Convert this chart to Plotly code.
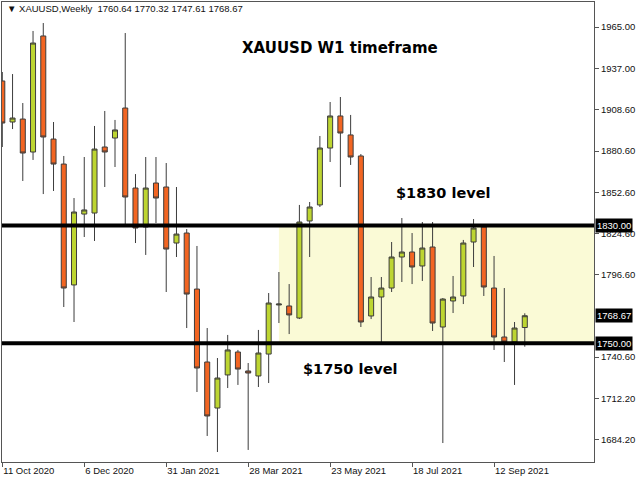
import plotly.graph_objects as go

weeks = [
    "2020-10-11", "2020-10-18", "2020-10-25", "2020-11-01", "2020-11-08", "2020-11-15",
    "2020-11-22", "2020-11-29", "2020-12-06", "2020-12-13", "2020-12-20", "2020-12-27",
    "2021-01-03", "2021-01-10", "2021-01-17", "2021-01-24", "2021-01-31", "2021-02-07",
    "2021-02-14", "2021-02-21", "2021-02-28", "2021-03-07", "2021-03-14", "2021-03-21",
    "2021-03-28", "2021-04-04", "2021-04-11", "2021-04-18", "2021-04-25", "2021-05-02",
    "2021-05-09", "2021-05-16", "2021-05-23", "2021-05-30", "2021-06-06", "2021-06-13",
    "2021-06-20", "2021-06-27", "2021-07-04", "2021-07-11", "2021-07-18", "2021-07-25",
    "2021-08-01", "2021-08-08", "2021-08-15", "2021-08-22", "2021-08-29", "2021-09-05",
    "2021-09-12", "2021-09-19", "2021-09-26", "2021-10-03",
]
open_ = [
    1928.3, 1900.4, 1902.4, 1880.0, 1958.9, 1888.8, 1871.8, 1789.6, 1837.8, 1838.5,
    1883.4, 1889.5, 1909.9, 1855.5, 1829.0, 1858.9, 1856.2, 1818.1, 1824.9, 1786.8,
    1737.2, 1705.9, 1728.4, 1744.0, 1731.1, 1727.7, 1742.6, 1776.0, 1775.3, 1767.1,
    1833.1, 1844.0, 1882.7, 1904.5, 1891.6, 1877.3, 1768.5, 1781.4, 1787.5, 1808.6,
    1812.0, 1802.5, 1815.4, 1761.0, 1778.7, 1782.1, 1818.8, 1829.0, 1787.5, 1754.2,
    1750.8, 1760.64,
]
high = [
    1934.4, 1933.0, 1913.3, 1962.3, 1967.7, 1900.4, 1877.3, 1848.7, 1876.6, 1897.7,
    1907.9, 1901.8, 1960.9, 1865.0, 1876.6, 1876.6, 1872.5, 1856.2, 1827.6, 1816.1,
    1760.3, 1739.9, 1755.6, 1745.4, 1736.5, 1759.0, 1784.1, 1798.4, 1790.2, 1844.0,
    1846.0, 1890.9, 1914.0, 1917.4, 1905.2, 1878.6, 1795.0, 1795.0, 1818.8, 1835.1,
    1824.9, 1832.4, 1832.4, 1780.7, 1795.7, 1820.2, 1834.4, 1831.0, 1809.3, 1787.5,
    1764.4, 1770.32,
]
low = [
    1883.4, 1895.6, 1860.3, 1874.6, 1851.4, 1853.5, 1774.6, 1764.4, 1822.2, 1819.5,
    1856.2, 1869.8, 1829.0, 1818.1, 1810.0, 1831.7, 1784.8, 1808.6, 1760.3, 1716.8,
    1686.9, 1676.0, 1719.5, 1721.6, 1677.4, 1720.2, 1722.9, 1763.7, 1756.2, 1766.4,
    1808.6, 1842.6, 1873.2, 1856.2, 1871.2, 1761.0, 1766.4, 1750.8, 1784.8, 1791.6,
    1790.2, 1792.3, 1758.3, 1682.1, 1770.5, 1776.6, 1801.8, 1782.1, 1745.4, 1737.2,
    1721.6, 1747.61,
]
close = [
    1899.7, 1903.1, 1879.3, 1954.1, 1890.2, 1871.8, 1787.5, 1839.2, 1840.6, 1882.0,
    1880.0, 1895.0, 1849.4, 1828.3, 1855.5, 1848.7, 1814.0, 1824.2, 1783.4, 1733.1,
    1700.5, 1726.3, 1745.4, 1732.4, 1729.7, 1743.3, 1777.3, 1776.6, 1769.2, 1832.4,
    1842.6, 1882.7, 1904.5, 1892.9, 1876.6, 1764.4, 1781.4, 1787.5, 1808.6, 1812.0,
    1801.8, 1814.7, 1763.7, 1780.0, 1781.4, 1818.1, 1828.3, 1788.2, 1754.2, 1750.8,
    1760.3, 1768.67,
]

x_tick_dates = ["2020-10-11", "2020-12-06", "2021-01-31", "2021-03-28",
                "2021-05-23", "2021-07-18", "2021-09-12"]
x_tick_labels = ["11 Oct 2020", "6 Dec 2020", "31 Jan 2021", "28 Mar 2021",
                 "23 May 2021", "18 Jul 2021", "12 Sep 2021"]
y_ticks = [1965.00, 1937.00, 1908.60, 1880.60, 1852.60, 1824.60, 1796.60,
           1740.60, 1712.20, 1684.20]
levels = [1830.00, 1750.00]
zone_start = "2021-04-18"

symbol = "XAUUSD"
period = "Weekly"

LBL = "Liberation Sans"
BOLD = "DejaVu Sans"
GREEN = "#BDD531"
RED = "#F26522"
EDGE = "#3c3c3c"

fig = go.Figure()
fig.add_trace(go.Candlestick(
    x=weeks, open=open_, high=high, low=low, close=close,
    increasing=dict(fillcolor=GREEN, line=dict(color=EDGE, width=1)),
    decreasing=dict(fillcolor=RED, line=dict(color=EDGE, width=1)),
    whiskerwidth=0, showlegend=False, hoverinfo="skip",
))

# shaded range zone between the two levels
fig.add_shape(type="rect", xref="x", yref="y", x0=zone_start, x1="2021-12-31",
              y0=min(levels), y1=max(levels), fillcolor="#FAFAD6",
              line=dict(width=0), layer="below")
for lv in levels:
    fig.add_shape(type="line", xref="paper", yref="y", x0=0, x1=1, y0=lv, y1=lv,
                  line=dict(color="black", width=4), layer="above")

ann = []
ann.append(dict(xref="paper", yref="paper", x=0.005, y=0.985, xanchor="left",
                yanchor="middle", showarrow=False,
                text="▼ %s,%s  %.2f %.2f %.2f %.2f" % (symbol, period, open_[-1], high[-1], low[-1], close[-1]),
                font=dict(family=LBL, size=9.5, color="#111")))
ann.append(dict(xref="paper", yref="paper", x=0.571, y=0.90, xanchor="center",
                yanchor="middle", showarrow=False,
                text="<b>XAUUSD W1 timeframe</b>", font=dict(family=BOLD, size=15, color="black")))
ann.append(dict(xref="paper", yref="paper", x=0.745, y=0.585, xanchor="center",
                yanchor="middle", showarrow=False,
                text="<b>$1830 level</b>", font=dict(family=BOLD, size=14.5, color="black")))
ann.append(dict(xref="paper", yref="paper", x=0.588, y=0.202, xanchor="center",
                yanchor="middle", showarrow=False,
                text="<b>$1750 level</b>", font=dict(family=BOLD, size=14.5, color="black")))
for v in levels + [close[-1]]:
    ann.append(dict(xref="paper", yref="y", x=1, y=v, xanchor="left", yanchor="middle",
                    xshift=1, showarrow=False, text="%.2f" % v, bgcolor="black",
                    borderpad=1, font=dict(family=LBL, size=9.5, color="white")))

fig.update_layout(
    width=640, height=480, margin=dict(l=2, r=46, t=2, b=18),
    paper_bgcolor="white", plot_bgcolor="white",
    annotations=ann,
    xaxis=dict(type="date", range=["2020-10-10 19:00", "2021-11-19 07:00"],
               rangeslider=dict(visible=False), tickvals=x_tick_dates, ticktext=x_tick_labels,
               ticks="outside", ticklen=4, tickcolor="#555", showgrid=False, zeroline=False,
               showline=True, linecolor="#555", linewidth=1, mirror=True,
               ticklabelposition="outside right",
               tickfont=dict(family=LBL, size=9.5, color="#111")),
    yaxis=dict(side="right", range=[1669.2, 1982.0], tickvals=y_ticks,
               ticktext=["%.2f" % v for v in y_ticks], ticks="outside", ticklen=4,
               tickcolor="#555", showgrid=False, zeroline=False, showline=True,
               linecolor="#555", linewidth=1, mirror=True,
               tickfont=dict(family=LBL, size=9.5, color="#111")),
)

fig.write_html("out.html", config={"displayModeBar": False},
               post_script="document.body.style.margin='0px';")
